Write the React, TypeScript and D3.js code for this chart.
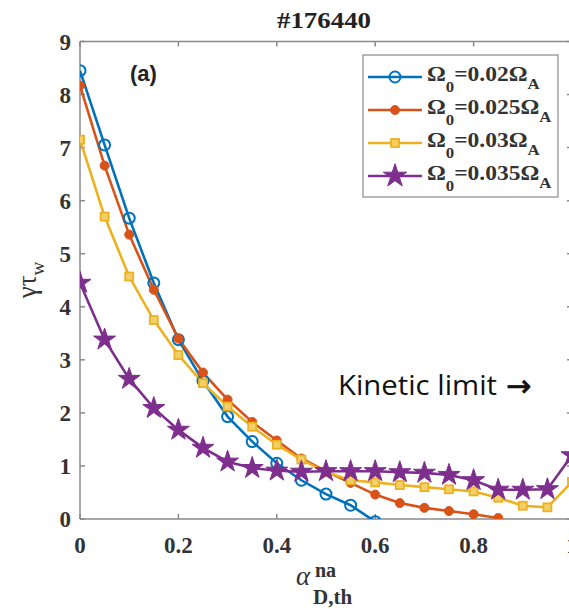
import React from "react";
import * as d3 from "d3";

const xs = [0, 0.05, 0.1, 0.15, 0.2, 0.25, 0.3, 0.35, 0.4, 0.45, 0.5, 0.55, 0.6, 0.65, 0.7, 0.75, 0.8, 0.85, 0.9, 0.95, 1.0];

const blueVals = [8.45, 7.05, 5.67, 4.45, 3.38, 2.6, 1.93, 1.46, 1.05, 0.73, 0.47, 0.26, -0.05];
const orangeVals = [8.17, 6.66, 5.36, 4.32, 3.4, 2.76, 2.25, 1.83, 1.48, 1.14, 0.9, 0.68, 0.46, 0.3, 0.21, 0.15, 0.09, 0.02];
const yellowVals = [7.15, 5.7, 4.57, 3.75, 3.09, 2.56, 2.12, 1.74, 1.4, 1.12, 0.88, 0.73, 0.69, 0.64, 0.6, 0.56, 0.52, 0.4, 0.25, 0.22, 0.7];
const purpleVals = [4.45, 3.38, 2.64, 2.09, 1.68, 1.34, 1.08, 0.96, 0.91, 0.89, 0.9, 0.9, 0.9, 0.88, 0.87, 0.83, 0.73, 0.55, 0.55, 0.56, 1.2];

const legendLabels = ["0.02", "0.025", "0.03", "0.035"];
const xTicks = [0, 0.2, 0.4, 0.6, 0.8, 1];
const yTicks = [0, 1, 2, 3, 4, 5, 6, 7, 8, 9];

const colors = ["#0072BD", "#D95319", "#EDB120", "#7E2F8E"];
const markerTypes = ["circle", "dot", "square", "star"];

const L = 80, R = 572, T = 41.5, B = 519;

const x = d3.scaleLinear().domain([0, 1]).range([L, R]);
const y = d3.scaleLinear().domain([0, 9]).range([B, T]);

const series = [blueVals, orangeVals, yellowVals, purpleVals].map((vals) =>
  vals.map((v, i) => ({ x: xs[i], y: v }))
);

const line = d3
  .line<{ x: number; y: number }>()
  .x((d) => x(d.x))
  .y((d) => y(d.y));

const starPath = d3.symbol().type(d3.symbolStar).size(150)() as string;
const starBig = d3.symbol().type(d3.symbolStar).size(170)() as string;

function Marker({ type, color, cx, cy, big }: { type: string; color: string; cx: number; cy: number; big?: boolean }) {
  if (type === "circle")
    return <circle cx={cx} cy={cy} r={5.5} fill="none" stroke={color} strokeWidth={2} />;
  if (type === "dot") return <circle cx={cx} cy={cy} r={4.5} fill={color} stroke={color} strokeWidth={1} />;
  if (type === "square")
    return <rect x={cx - 4} y={cy - 4} width={8} height={8} fill="#F3CF6A" stroke={color} strokeWidth={1.8} />;
  return <path d={big ? starBig : starPath} transform={`translate(${cx},${cy})`} fill={color} stroke={color} strokeWidth={1} />;
}

export default function App() {
  const serif = "'Liberation Serif', 'Times New Roman', serif";
  return (
    <svg width={569} height={609} style={{ position: "absolute", left: 0, top: 0, background: "#fff" }}>
      <defs>
        <clipPath id="plot">
          <rect x={L} y={T - 10} width={R - L + 10} height={B - T + 10} />
        </clipPath>
      </defs>
      <rect width={569} height={609} fill="#fff" />
      {/* axes box */}
      <g stroke="#8a8a8a" strokeWidth={1.5} fill="none">
        <line x1={L} y1={B} x2={R} y2={B} />
        <line x1={L} y1={T} x2={R} y2={T} />
        <line x1={L} y1={T} x2={L} y2={B} />
        <line x1={R} y1={T} x2={R} y2={B} />
        {xTicks.map((t) => (
          <g key={"xt" + t}>
            <line x1={x(t)} y1={B} x2={x(t)} y2={B - 5} />
            <line x1={x(t)} y1={T} x2={x(t)} y2={T + 5} />
          </g>
        ))}
        {yTicks.map((t) => (
          <g key={"yt" + t}>
            <line x1={L} y1={y(t)} x2={L + 5} y2={y(t)} />
            <line x1={R} y1={y(t)} x2={R - 5} y2={y(t)} />
          </g>
        ))}
      </g>
      {/* tick labels */}
      <g fontFamily={serif} fontWeight="bold" fontSize={23} fill="#333">
        {xTicks.map((t) => (
          <text key={"xl" + t} x={x(t)} y={553} textAnchor="middle">
            {t === 0 ? "0" : t === 1 ? "1" : t.toFixed(1)}
          </text>
        ))}
        {yTicks.map((t) => (
          <text key={"yl" + t} x={71} y={y(t) + 8} textAnchor="end">
            {t}
          </text>
        ))}
      </g>
      {/* title */}
      <text x={324} y={28} textAnchor="middle" fontFamily={serif} fontWeight="bold" fontSize={23} fill="#222" textLength={94} lengthAdjust="spacingAndGlyphs">
        #176440
      </text>
      {/* (a) */}
      <text x={130} y={81} fontFamily="'Liberation Sans', Arial, sans-serif" fontWeight="bold" fontSize={22} fill="#222">
        (a)
      </text>
      {/* lines */}
      <g clipPath="url(#plot)">
        {series.map((s, i) => (
          <path key={"l" + i} d={line(s) as string} fill="none" stroke={colors[i]} strokeWidth={2.6} />
        ))}
        {series.map((s, i) =>
          s.map((d, j) => (
            <Marker key={"m" + i + "-" + j} type={markerTypes[i]} color={colors[i]} cx={x(d.x)} cy={y(d.y)} />
          ))
        )}
      </g>
      {/* legend */}
      <rect x={363} y={55} width={195} height={142} fill="#fff" stroke="#8a8a8a" strokeWidth={1.2} />
      {legendLabels.map((lab, i) => {
        const ly = 77 + i * 33;
        return (
          <g key={"lg" + i}>
            <line x1={368} y1={ly} x2={422} y2={ly} stroke={colors[i]} strokeWidth={2.6} />
            <Marker type={markerTypes[i]} color={colors[i]} cx={395} cy={ly} big />
            <g transform={`translate(427,${ly + 4}) scale(1.12,1)`}>
              <text x={0} y={0} fontFamily={serif} fontWeight="bold" fontSize={21} fill="#333">
                Ω
                <tspan fontSize={15} dy={11}>0</tspan>
                <tspan dy={-11}>{"=" + lab + "Ω"}</tspan>
                <tspan fontSize={15} dy={8}>A</tspan>
              </text>
            </g>
          </g>
        );
      })}
      {/* kinetic limit */}
      <text x={338} y={395} fontFamily="'Open Sans', 'DejaVu Sans', sans-serif" fontSize={27} fill="#111" textLength={159} lengthAdjust="spacingAndGlyphs">
        Kinetic limit
      </text>
      <text x={506} y={396} fontFamily="'DejaVu Sans', sans-serif" fontSize={30} fill="#111" stroke="#111" strokeWidth={0.8}>
        →
      </text>
      {/* y label */}
      <g transform="translate(36,280) rotate(-90)">
        <text textAnchor="middle" fontFamily={serif} fontSize={27} fill="#333">
          γτ
          <tspan fontSize={19} dy={8}>w</tspan>
        </text>
      </g>
      {/* x label */}
      <text x={296} y={585} fontFamily={serif} fontStyle="italic" fontSize={27} fill="#333">
        α
      </text>
      <text x={315} y={577} fontFamily={serif} fontWeight="bold" fontSize={20} fill="#333">
        na
      </text>
      <text x={313} y={604} fontFamily={serif} fontWeight="bold" fontSize={21} fill="#333">
        D,th
      </text>
    </svg>
  );
}
